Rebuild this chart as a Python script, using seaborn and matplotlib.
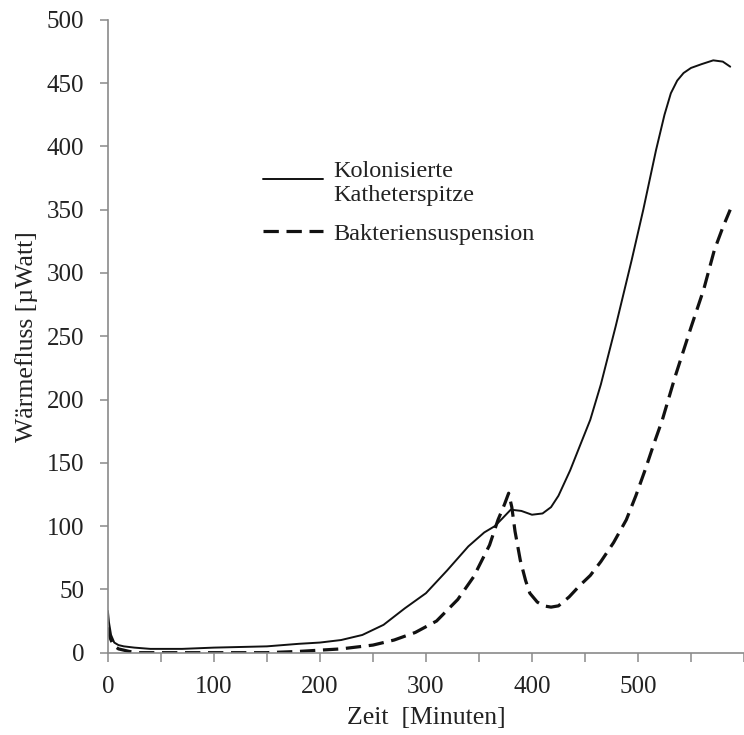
import pandas as pd
import matplotlib
matplotlib.use("Agg")
import matplotlib.pyplot as plt
import seaborn as sns

# Zeit [Minuten] / Wärmefluss [µWatt]
zeit_katheter = [0, 1, 3, 6, 10, 15, 25, 40, 70, 100, 150, 180, 200, 220, 240, 260,
                 280, 300, 320, 340, 355, 365, 372, 380, 390, 400, 410, 418, 425,
                 436, 445, 455, 465, 479, 494, 505, 517, 525, 531, 537, 543, 550,
                 560, 571, 580, 587]
waerme_katheter = [33, 24, 14, 8, 6, 5, 4, 3, 3, 4, 5, 7, 8, 10, 14, 22,
                   35, 47, 65, 84, 95, 100, 106, 113, 112, 109, 110, 115, 124,
                   144, 163, 184, 212, 258, 310, 350, 397, 425, 442, 452, 458, 462,
                   465, 468, 467, 463]

zeit_suspension = [0, 2, 5, 10, 20, 30, 50, 100, 150, 180, 220, 250, 270, 290, 310,
                   330, 345, 360, 368, 374, 378, 381, 384, 389, 394, 398, 405, 411,
                   418, 425, 435, 445, 455, 465, 477, 489, 498, 507, 515, 523, 535,
                   550, 562, 572, 580, 587]
waerme_suspension = [20, 12, 6, 3, 1, 0, 0, 0, 0, 1, 3, 6, 10, 16, 25,
                     42, 60, 85, 105, 117, 126, 115, 96, 73, 57, 47, 40, 37,
                     36, 37, 44, 53, 61, 72, 87, 105, 124, 145, 165, 184, 218,
                     257, 287, 318, 336, 350]

sns.set_theme(style="white")
plt.rcParams['font.family'] = ['Liberation Serif', 'DejaVu Serif']

df_k = pd.DataFrame({'zeit': zeit_katheter, 'waerme': waerme_katheter})
df_s = pd.DataFrame({'zeit': zeit_suspension, 'waerme': waerme_suspension})

fig = plt.figure(figsize=(7.44, 7.35), dpi=100)
ax = fig.add_axes([0.145, 0.112, 0.855, 0.861])

sns.lineplot(data=df_k, x='zeit', y='waerme', color='#111111', linewidth=1.4,
             label='Kolonisierte\nKatheterspitze', ax=ax)
sns.lineplot(data=df_s, x='zeit', y='waerme', color='#111111', linewidth=2.3,
             label='Bakteriensuspension', ax=ax)
ax.lines[1].set_dashes((4.8, 2.4))

ax.set_xlim(0, 587)
ax.set_ylim(0, 500)
ax.set_xticks(range(0, 501, 100))
ax.set_xticks(range(0, 601, 50), minor=True)
ax.set_yticks(range(0, 501, 50))

for s in ['top', 'right']:
    ax.spines[s].set_visible(False)
for s in ['left', 'bottom']:
    ax.spines[s].set_color('#8a8a8a')
    ax.spines[s].set_linewidth(1.2)

ax.tick_params(axis='y', which='major', direction='out', length=6, width=1.1,
               color='#8a8a8a', labelsize=18, labelcolor='#222222', left=True, pad=11)
ax.tick_params(axis='x', which='both', direction='out', length=6.5, width=1.1,
               color='#8a8a8a', labelsize=18, labelcolor='#222222', bottom=True, pad=10.5)

ax.set_xlabel('Zeit  [Minuten]', fontsize=18.5, color='#222222', labelpad=6)
ax.set_ylabel('Wärmefluss [µWatt]', fontsize=18.5, color='#222222', labelpad=6)

leg = ax.legend(loc='upper left', bbox_to_anchor=(0.244, 0.7765), frameon=False,
                borderpad=0, borderaxespad=0,
                fontsize=17.5, handlelength=2.45, handletextpad=0.45, labelspacing=0.66,
                labelcolor='#222222')
# put the solid handle level with the first text line, like the original
h0 = leg.get_lines()[0]
h0.set_ydata([y + 3.2 for y in h0.get_ydata()])

fig.savefig('out.png', dpi=100)
